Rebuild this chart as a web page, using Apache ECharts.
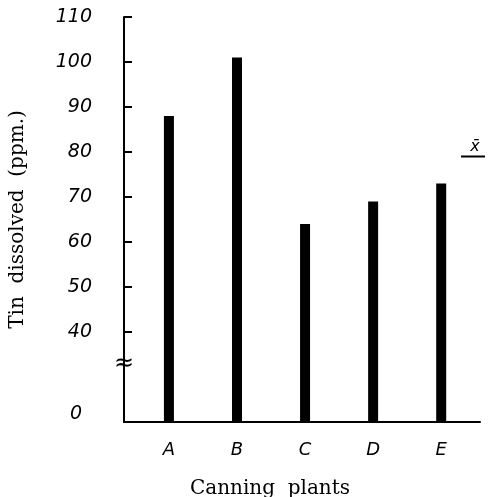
<!DOCTYPE html>
<html>
<head>
<meta charset="utf-8">
<script src="https://cdn.jsdelivr.net/npm/echarts@6/dist/echarts.min.js"></script>
<style>
  html, body { margin: 0; padding: 0; background: #fff; }
  #chart { width: 489px; height: 497px; }
</style>
</head>
<body>
<div id="chart"></div>
<script>
const plants = ['A', 'B', 'C', 'D', 'E']
const tinPpm = [88, 101, 64, 69, 73]
const yTicks = [40, 50, 60, 70, 80, 90, 100, 110]

const chart = echarts.init(document.getElementById('chart'))

const handFont = 'DejaVu Sans'
const bookFont = 'DejaVu Serif'

// the axis starts at 20 and that spot is labelled 0 (the broken part of the axis)
const axisFloor = 20
const mean = tinPpm.reduce((a, b) => a + b, 0) / tinPpm.length

chart.setOption({
  animation: false,
  backgroundColor: '#fff',
  grid: { left: 124, right: 9, top: 17, bottom: 75, outerBoundsMode: 'none' },
  xAxis: {
    type: 'value',
    min: -0.66,
    max: 4.57,
    splitLine: { show: false },
    axisLine: { onZero: false, lineStyle: { color: '#000', width: 2 } },
    axisTick: { show: false },
    axisLabel: {
      customValues: plants.map((p, i) => i),
      formatter: (v) => plants[Math.round(v)],
      margin: 19,
      color: '#000',
      fontFamily: handFont,
      fontStyle: 'italic',
      fontSize: 18
    },
    name: 'Canning  plants',
    nameLocation: 'middle',
    nameGap: 57,
    nameTextStyle: {
      color: '#000',
      fontFamily: bookFont,
      fontSize: 20,
      padding: [0, 64, 0, 0]
    }
  },
  yAxis: {
    type: 'value',
    min: axisFloor,
    max: 110,
    interval: 10,
    splitLine: { show: false },
    axisLine: { show: true, onZero: false, lineStyle: { color: '#000', width: 2 } },
    axisTick: {
      show: true,
      inside: true,
      length: 8,
      customValues: yTicks,
      lineStyle: { color: '#000', width: 2 }
    },
    axisLabel: {
      customValues: [axisFloor].concat(yTicks),
      formatter: (v) => (v === axisFloor ? '{zero|0}' : String(v)),
      margin: 32,
      color: '#000',
      fontFamily: handFont,
      fontStyle: 'italic',
      fontSize: 19,
      rich: {
        zero: {
          fontFamily: handFont,
          fontStyle: 'italic',
          fontSize: 19,
          color: '#000',
          padding: [0, 10, 16, 0]
        }
      }
    },
    name: 'Tin  dissolved  (ppm.)',
    nameLocation: 'middle',
    nameGap: 96,
    nameTextStyle: {
      color: '#000',
      fontFamily: bookFont,
      fontSize: 20
    }
  },
  series: [
    {
      type: 'bar',
      barWidth: 10,
      itemStyle: { color: '#000' },
      data: tinPpm.map((v, i) => [i, v])
    }
  ]
})

// axis break mark and the mean marker, placed through the axis scales
const breakPt = chart.convertToPixel({ gridIndex: 0 }, [-0.66, 33])
const meanPt = chart.convertToPixel({ gridIndex: 0 }, [4.57, mean])

chart.setOption({
  graphic: [
    {
      type: 'rect',
      shape: { x: breakPt[0] - 3, y: breakPt[1] - 7, width: 6, height: 14 },
      style: { fill: '#fff' }
    },
    {
      type: 'text',
      x: breakPt[0],
      y: breakPt[1],
      style: {
        text: '≈',
        fontFamily: handFont,
        fontSize: 24,
        fill: '#000',
        align: 'center',
        verticalAlign: 'middle'
      }
    },
    {
      type: 'line',
      shape: { x1: meanPt[0] - 19, y1: meanPt[1], x2: meanPt[0] + 5, y2: meanPt[1] },
      style: { stroke: '#000', lineWidth: 2 }
    },
    {
      type: 'text',
      x: meanPt[0] - 5,
      y: meanPt[1] - 2,
      style: {
        text: 'x̄',
        fontFamily: handFont,
        fontStyle: 'italic',
        fontSize: 16,
        fill: '#000',
        align: 'center',
        verticalAlign: 'bottom'
      }
    }
  ]
})

window.addEventListener('resize', () => chart.resize())
</script>
</body>
</html>
